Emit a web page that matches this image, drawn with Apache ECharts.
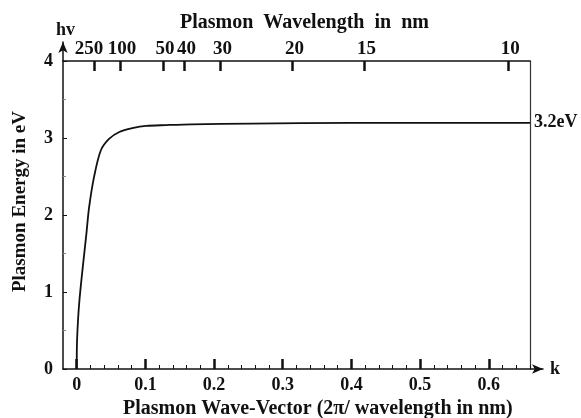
<!DOCTYPE html>
<html lang="en">
<head>
<meta charset="UTF-8">
<title>Plasmon dispersion</title>
<script src="https://cdn.jsdelivr.net/npm/echarts@6/dist/echarts.min.js"></script>
<style>
    * { margin: 0; padding: 0; }
    body { background-color: #fff; }
    #box { width: 581px; height: 418px; }
</style>
</head>
<body>
<div id="box"></div>
<script>
    // curve: wave-vector k and plasmon energy in eV
    var kVals = [0, 0.0005, 0.004, 0.0142, 0.018, 0.0253, 0.035, 0.047, 0.062, 0.081, 0.101, 0.130, 0.167, 0.254, 0.40, 0.66];
    var eVals = [0, 0.38, 0.9, 1.77, 2.1, 2.5, 2.84, 2.99, 3.08, 3.13, 3.16, 3.17, 3.18, 3.19, 3.20, 3.20];

    var xTicks = [0, 0.1, 0.2, 0.3, 0.4, 0.5, 0.6];
    var yTicks = [0, 1, 2, 3, 4];
    var yMinor = [0.5, 1.5, 2.5, 3.5];
    var wavelengths = [250, 100, 50, 40, 30, 20, 15, 10];
    var plateau = [3.2];

    var xMinor = [];
    for (var i = 1; i <= 33; i++) {
        if (i % 5 != 0) xMinor.push(+(i * 0.02).toFixed(2));
    }
    var topTicks = wavelengths.map(function (l) { return 2 * Math.PI / l; });

    var kMin = -0.02, kMax = 0.66, kArrow = 0.679;
    var ink = '#111';

    function serif(size, extra) {
        return Object.assign({ fontFamily: 'Liberation Serif', fontWeight: 'bold', fontSize: size, color: ink }, extra || {});
    }

    function toWavelength(v) { return String(Math.round(2 * Math.PI / v)); }

    // top axis labels only (the 250 and 100 labels sit too close to share one axis)
    function topLabels(values, pad) {
        return {
            gridIndex: 1, type: 'value', min: kMin, max: kMax, position: 'top',
            axisLine: { show: false, onZero: false },
            axisTick: { show: false },
            axisLabel: serif(19, { customValues: values, margin: 2, hideOverlap: false, padding: pad, formatter: toWavelength }),
            splitLine: { show: false }
        };
    }

    var data = kVals.map(function (k, i) { return [k, eVals[i]]; });

    var option = {
        animation: false,
        title: [
            { text: 'Plasmon  Wavelength  in  nm', left: 180, top: 13, padding: 0, textStyle: serif(20) },
            { text: 'Plasmon Wave-Vector (2π/ wavelength in nm)', left: 123, top: 399, padding: 0, textStyle: serif(20) },
            { text: 'hv', left: 56, top: 21, padding: 0, textStyle: serif(18) }
        ],
        grid: [
            { left: 63, right: 38, top: 42, bottom: 49 },
            { left: 63, right: 51, top: 61, bottom: 49 }
        ],
        xAxis: [
            {
                gridIndex: 0, type: 'value', min: kMin, max: kArrow, position: 'bottom',
                name: 'k', nameGap: 7, nameTextStyle: serif(18, { verticalAlign: 'middle' }),
                axisLine: { onZero: false, symbol: ['none', 'arrow'], symbolSize: [7, 11], lineStyle: { color: ink, width: 1.5 } },
                axisTick: { inside: true, length: 10, customValues: xTicks, lineStyle: { color: ink, width: 2.5 } },
                axisLabel: serif(18, { customValues: xTicks, margin: 7, formatter: function (v) { return String(+v.toFixed(1)); } }),
                splitLine: { show: false }
            },
            {
                gridIndex: 0, type: 'value', min: kMin, max: kArrow, position: 'bottom',
                axisLine: { show: false, onZero: false },
                axisTick: { inside: true, length: 4, customValues: xMinor, lineStyle: { color: ink, width: 1 } },
                axisLabel: { show: false },
                splitLine: { show: false }
            },
            {
                gridIndex: 1, type: 'value', min: kMin, max: kMax, position: 'top',
                axisLine: { onZero: false, lineStyle: { color: ink, width: 1.5 } },
                axisTick: { inside: true, length: 10, customValues: topTicks, lineStyle: { color: ink, width: 2.5 } },
                axisLabel: { show: false },
                splitLine: { show: false }
            },
            topLabels(topTicks.slice(0, 1), [0, 10, 0, 0]),
            topLabels(topTicks.slice(1), [0, 0, 0, 4])
        ],
        yAxis: [
            {
                gridIndex: 0, type: 'value', min: 0, max: 4.25, position: 'left',
                name: 'Plasmon Energy in eV', nameLocation: 'middle', nameRotate: 90, nameGap: 33,
                nameTextStyle: serif(19, { padding: [0, 0, 0, 8] }),
                axisLine: { onZero: false, symbol: ['none', 'arrow'], symbolSize: [7, 11], lineStyle: { color: ink, width: 1.5 } },
                axisTick: { inside: true, length: 4, customValues: yTicks, lineStyle: { color: ink, width: 1 } },
                axisLabel: serif(18, { customValues: yTicks, margin: 10 }),
                splitLine: { show: false }
            },
            {
                gridIndex: 0, type: 'value', min: 0, max: 4.25, position: 'left',
                axisLine: { show: false, onZero: false },
                axisTick: { inside: true, length: 3, customValues: yMinor, lineStyle: { color: '#888', width: 1 } },
                axisLabel: { show: false },
                splitLine: { show: false }
            },
            {
                gridIndex: 1, type: 'value', min: 0, max: 4, position: 'right',
                axisLine: { onZero: false, lineStyle: { color: '#333', width: 1.2 } },
                axisTick: { inside: true, length: 3, customValues: plateau, lineStyle: { color: '#333', width: 1 } },
                axisLabel: serif(18, { customValues: plateau, margin: 4, formatter: function (v) { return v.toFixed(1) + 'eV'; } }),
                splitLine: { show: false }
            }
        ],
        series: [{
            type: 'line',
            xAxisIndex: 0,
            yAxisIndex: 0,
            data: data,
            smooth: 0.3,
            showSymbol: false,
            lineStyle: { color: ink, width: 1.8 }
        }]
    };

    echarts.init(document.getElementById('box')).setOption(option);
</script>
</body>
</html>
